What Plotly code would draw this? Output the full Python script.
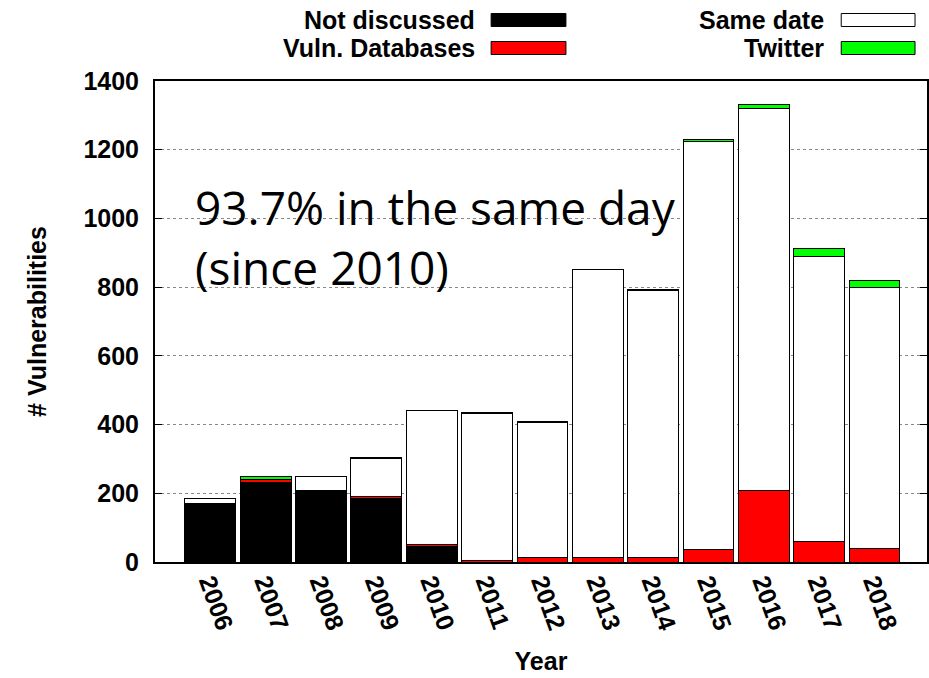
import plotly.graph_objects as go

years = ["2006", "2007", "2008", "2009", "2010", "2011", "2012",
         "2013", "2014", "2015", "2016", "2017", "2018"]
not_discussed = [171, 232, 206, 186, 45, 0, 0, 0, 0, 0, 0, 0, 0]
vuln_databases = [0, 7, 2, 6, 7, 3, 14, 14, 14, 35, 209, 59, 38]
same_date = [13, 0, 40, 108, 388, 430, 391, 837, 775, 1188, 1111, 831, 761]
twitter = [0, 9, 0, 3, 2, 3, 3, 1, 5, 6, 13, 23, 21]

series = [
    ("Not discussed", not_discussed, "#000000"),
    ("Vuln. Databases", vuln_databases, "#ff0000"),
    ("Same date", same_date, "#ffffff"),
    ("Twitter", twitter, "#00ff00"),
]

W, H = 929, 678
L, R, T, B = 155, 0, 81, 116
PW, PH = W - L - R, H - T - B

fig = go.Figure()
for name, vals, col in series:
    fig.add_trace(go.Bar(x=years, y=vals, name=name, marker_color=col,
                         marker_line=dict(color="#000000", width=1),
                         showlegend=False))

def px(x):
    return (x - L) / PW

def py(y):
    return (H - B - y) / PH

font_b = dict(family="Liberation Sans, Arial", size=25, color="#000000", weight="bold")

shapes = []
annotations = []
legend_items = [
    ("Not discussed", "#000000", 478, 492, 567, 20),
    ("Vuln. Databases", "#ff0000", 478, 492, 567, 48),
    ("Same date", "#ffffff", 828, 843, 917, 20),
    ("Twitter", "#00ff00", 828, 843, 917, 48),
]
for label, col, tx, bx0, bx1, cy in legend_items:
    annotations.append(dict(text=label, x=px(tx), y=py(cy), xref="paper", yref="paper",
                            xanchor="right", yanchor="middle", showarrow=False, font=font_b))
    shapes.append(dict(type="rect", xref="paper", yref="paper",
                       x0=px(bx0), x1=px(bx1), y0=py(cy + 6.5), y1=py(cy - 6.5),
                       fillcolor=col, line=dict(color="#000000", width=1)))

annotations.append(dict(text="93.7% in the same day<br>(since 2010)", x=px(193), y=py(174),
                        xref="paper", yref="paper", xanchor="left", yanchor="top", align="left",
                        showarrow=False,
                        font=dict(family="Open Sans", size=46, color="#000000")))

fig.update_layout(
    width=W, height=H,
    margin=dict(l=L, r=R, t=T, b=B, pad=0),
    paper_bgcolor="#ffffff", plot_bgcolor="#ffffff",
    barmode="stack", bargap=0.083,
    shapes=shapes, annotations=annotations,
    showlegend=False,
)
fig.update_xaxes(type="category", range=[-1, 12.95], showline=True, linecolor="#000000",
                 linewidth=2, mirror=True, showgrid=False, ticks="",
                 tickangle=70, tickfont=font_b, ticklabelstandoff=-6,
                 title=dict(text="Year", font=font_b, standoff=20))
fig.update_yaxes(range=[0, 1400], dtick=200, showline=True, linecolor="#000000",
                 linewidth=2, mirror="ticks", ticks="inside", ticklen=7, tickcolor="#000000",
                 showgrid=True, gridcolor="#888888", griddash="dot", gridwidth=1,
                 zeroline=False, tickfont=font_b, ticklabelstandoff=9,
                 title=dict(text="# Vulnerabilities", font=font_b, standoff=30))

fig.write_html("out.html", config={"displayModeBar": False},
               post_script="document.body.style.margin='0';")
